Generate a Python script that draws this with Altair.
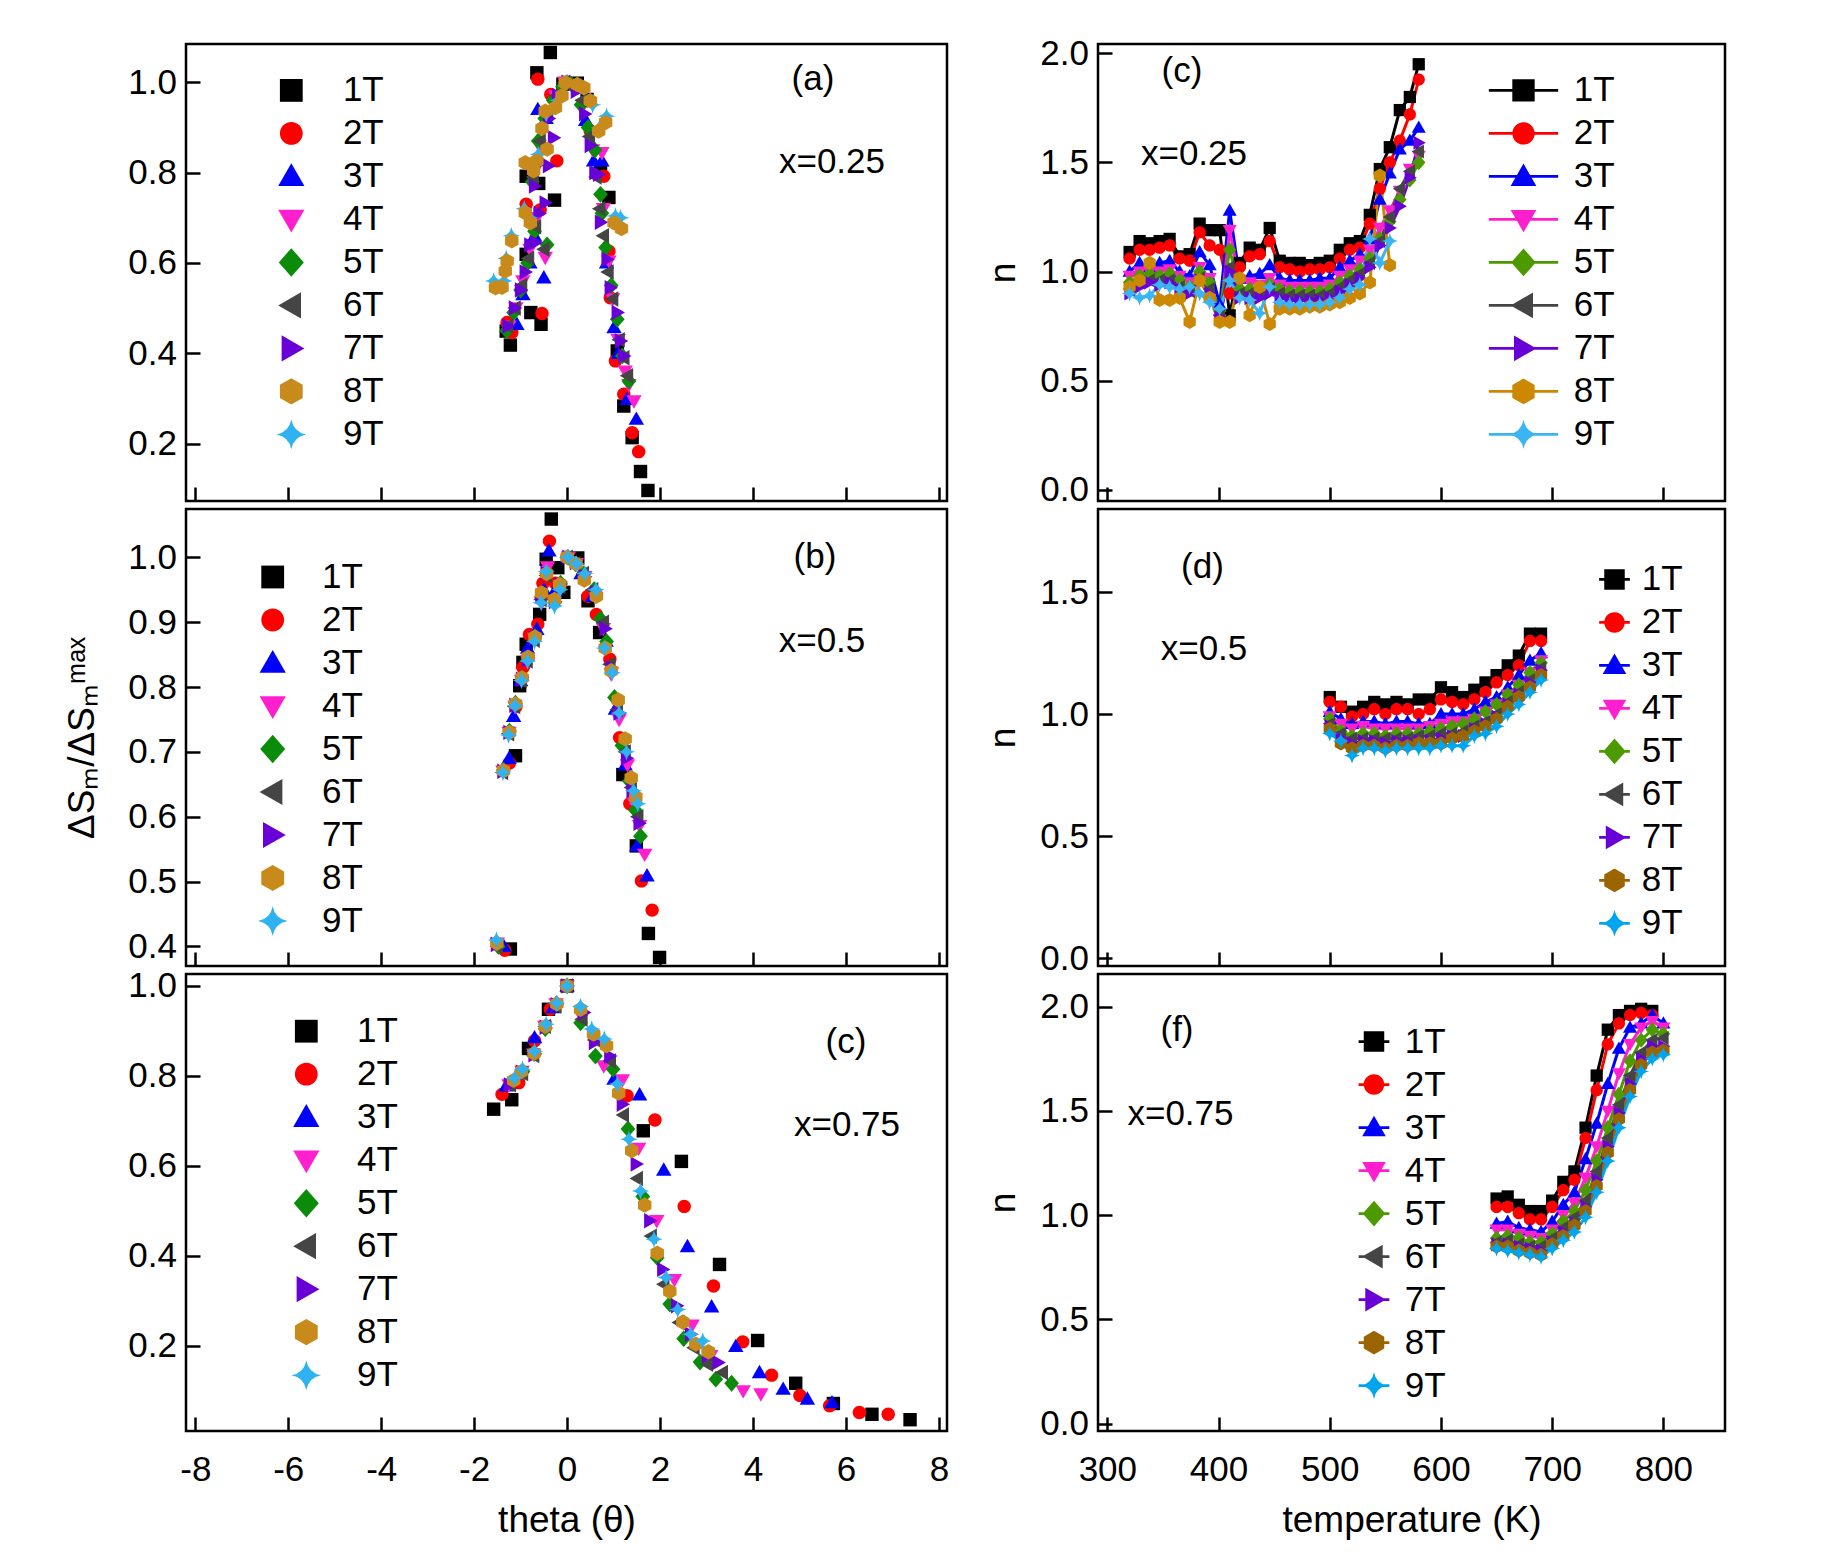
import altair as alt
import pandas as pd

FIELDS = ["1T", "2T", "3T", "4T", "5T", "6T", "7T", "8T", "9T"]

# ---------------- (a) x = 0.25 : normalised entropy change vs theta ----------------
theta_a = {
    "1T": [-1.31, -1.22, -0.78, -0.56, -0.88, -0.27, -0.88, -0.61, -0.65, -0.36, -0.09, 0.22, 0.43, 0.72, 0.90, 1.08, 1.22, 1.40, 1.58, 1.74],
    "2T": [-1.29, -1.19, -0.54, -0.88, -0.58, -0.22, -0.35, -0.63, 0.00, 0.50, 0.79, 0.90, 0.93, 1.04, 1.22, 1.40, 1.54],
    "3T": [-1.08, -0.95, -0.80, -0.70, -0.50, -0.63, -0.45, -0.20, 0.00, 0.40, 0.57, 0.75, 0.85, 1.01, 1.10, 1.29, 1.49],
    "4T": [-1.25, -1.10, -0.95, -0.80, -0.65, -0.47, -0.72, -0.60, -0.45, -0.25, -0.05, 0.15, 0.35, 0.55, 0.75, 0.78, 0.90, 0.98, 1.10, 1.25, 1.33, 1.44],
    "5T": [-1.30, -1.15, -1.00, -0.85, -0.70, -0.43, -0.75, -0.62, -0.48, -0.30, -0.10, 0.10, 0.30, 0.45, 0.60, 0.72, 0.75, 0.83, 0.95, 1.08, 1.19, 1.33],
    "6T": [-1.28, -1.12, -0.98, -0.83, -0.68, -0.50, -0.73, -0.58, -0.42, -0.22, -0.05, 0.12, 0.32, 0.48, 0.62, 0.70, 0.78, 0.88, 0.98, 1.12, 1.22, 1.30],
    "7T": [-1.27, -1.13, -1.00, -0.90, -0.80, -0.68, -0.60, -0.47, -0.70, -0.60, -0.40, -0.29, -0.40, -0.20, 0.00, 0.20, 0.38, 0.50, 0.60, 0.68, 0.72, 0.86, 0.93, 1.08, 1.15, 1.22],
    "8T": [-1.54, -1.40, -1.33, -1.29, -1.19, -0.90, -0.79, -0.90, -0.72, -0.65, -0.43, -0.54, -0.47, -0.25, -0.11, -0.04, 0.22, 0.36, 0.50, 0.68, 0.83, 1.01, 1.17],
    "9T": [-1.58, -1.36, -1.31, -1.20, -0.92, -0.80, -0.62, -0.45, -0.20, 0.00, 0.30, 0.55, 0.70, 0.85, 1.04, 1.15],
}
dsm_a = {
    "1T": [0.449, 0.418, 0.490, 0.464, 0.619, 0.739, 0.792, 0.776, 1.021, 1.066, 0.996, 0.998, 0.962, 0.800, 0.745, 0.405, 0.283, 0.213, 0.138, 0.096],
    "2T": [0.468, 0.446, 0.488, 0.730, 0.717, 0.826, 0.973, 1.007, 1.000, 0.892, 0.792, 0.626, 0.523, 0.383, 0.309, 0.224, 0.182],
    "3T": [0.464, 0.530, 0.600, 0.660, 0.567, 0.940, 0.920, 0.970, 1.000, 0.916, 0.826, 0.826, 0.600, 0.457, 0.400, 0.298, 0.254],
    "4T": [0.46, 0.50, 0.56, 0.63, 0.70, 0.612, 0.80, 0.86, 0.92, 0.97, 1.00, 0.99, 0.95, 0.85, 0.844, 0.72, 0.604, 0.52, 0.43, 0.36, 0.33, 0.294],
    "5T": [0.45, 0.49, 0.54, 0.60, 0.67, 0.64, 0.78, 0.87, 0.92, 0.96, 0.99, 0.995, 0.95, 0.90, 0.85, 0.752, 0.71, 0.634, 0.55, 0.475, 0.394, 0.338],
    "6T": [0.46, 0.50, 0.55, 0.61, 0.68, 0.63, 0.79, 0.87, 0.93, 0.97, 1.00, 0.99, 0.96, 0.88, 0.79, 0.72, 0.66, 0.58, 0.52, 0.43, 0.39, 0.35],
    "7T": [0.46, 0.50, 0.54, 0.58, 0.64, 0.645, 0.71, 0.733, 0.77, 0.82, 0.815, 0.877, 0.92, 0.97, 1.00, 0.98, 0.93, 0.86, 0.80, 0.796, 0.69, 0.608, 0.545, 0.49, 0.427, 0.394],
    "8T": [0.545, 0.546, 0.582, 0.604, 0.649, 0.711, 0.689, 0.822, 0.804, 0.826, 0.852, 0.898, 0.936, 0.944, 0.970, 0.999, 0.995, 0.988, 0.959, 0.892, 0.911, 0.689, 0.676],
    "9T": [0.56, 0.56, 0.61, 0.66, 0.72, 0.70, 0.84, 0.93, 0.96, 1.00, 0.99, 0.95, 0.90, 0.925, 0.704, 0.70],
}

# ---------------- (b) x = 0.5 ----------------
theta_b = {
    "1T": [-1.22, -1.11, -1.02, -0.95, -0.88, -0.59, -0.45, -0.34, -0.20, -0.07, 0.23, 0.45, 0.70, 1.20, 1.49, 1.75, 1.99],
    "2T": [-1.34, -1.24, -1.10, -0.95, -0.81, -0.63, -0.52, -0.38, -0.25, 0.00, 0.45, 0.63, 0.92, 1.13, 1.35, 1.60, 1.83],
    "3T": [-1.36, -1.25, -1.15, -1.00, -0.85, -0.65, -0.50, -0.39, -0.25, 0.00, 0.30, 0.55, 0.84, 1.04, 1.25, 1.50, 1.72],
    "4T": [-1.50, -1.38, -1.25, -1.12, -0.98, -0.85, -0.70, -0.55, -0.42, -0.28, -0.15, 0.03, 0.20, 0.38, 0.60, 0.78, 0.95, 1.12, 1.30, 1.45, 1.56, 1.67],
    "5T": [-1.48, -1.37, -1.24, -1.11, -0.97, -0.84, -0.69, -0.55, -0.44, -0.27, -0.14, 0.02, 0.18, 0.36, 0.58, 0.72, 0.85, 1.02, 1.18, 1.34, 1.47, 1.58],
    "6T": [-1.50, -1.39, -1.26, -1.13, -0.99, -0.86, -0.71, -0.56, -0.45, -0.28, -0.16, 0.00, 0.17, 0.35, 0.55, 0.78, 0.92, 1.08, 1.25, 1.38, 1.52],
    "7T": [-1.52, -1.38, -1.25, -1.12, -0.98, -0.85, -0.70, -0.56, -0.45, -0.27, -0.15, 0.02, 0.18, 0.38, 0.62, 0.82, 0.95, 1.12, 1.28, 1.40, 1.55],
    "8T": [-1.51, -1.37, -1.24, -1.11, -0.97, -0.84, -0.69, -0.55, -0.44, -0.27, -0.16, 0.00, 0.19, 0.37, 0.63, 0.82, 0.95, 1.10, 1.25, 1.38, 1.48],
    "9T": [-1.52, -1.38, -1.26, -1.12, -0.98, -0.85, -0.70, -0.56, -0.45, -0.27, -0.15, 0.02, 0.20, 0.38, 0.62, 0.80, 0.97, 1.12, 1.28, 1.43, 1.52],
}
dsm_b = {
    "1T": [0.396, 0.694, 0.802, 0.838, 0.866, 0.912, 0.997, 1.059, 0.984, 0.946, 0.999, 0.933, 0.884, 0.665, 0.555, 0.420, 0.383],
    "2T": [0.394, 0.683, 0.770, 0.830, 0.881, 0.897, 0.960, 1.025, 0.960, 1.000, 0.940, 0.912, 0.843, 0.722, 0.620, 0.501, 0.456],
    "3T": [0.400, 0.690, 0.755, 0.810, 0.860, 0.889, 0.950, 1.010, 0.950, 1.000, 0.975, 0.940, 0.871, 0.766, 0.680, 0.555, 0.509],
    "4T": [0.405, 0.670, 0.730, 0.770, 0.810, 0.840, 0.875, 0.930, 0.985, 0.930, 0.955, 1.000, 0.990, 0.970, 0.940, 0.890, 0.820, 0.750, 0.680, 0.620, 0.586, 0.542],
    "5T": [0.400, 0.672, 0.732, 0.775, 0.815, 0.845, 0.878, 0.940, 0.975, 0.930, 0.960, 1.000, 0.990, 0.975, 0.950, 0.905, 0.870, 0.784, 0.710, 0.655, 0.610, 0.570],
    "6T": [0.400, 0.668, 0.728, 0.770, 0.810, 0.840, 0.872, 0.935, 0.972, 0.935, 0.955, 1.000, 0.990, 0.975, 0.950, 0.900, 0.835, 0.765, 0.700, 0.645, 0.600],
    "7T": [0.403, 0.670, 0.730, 0.772, 0.812, 0.842, 0.875, 0.940, 0.976, 0.932, 0.958, 1.000, 0.992, 0.970, 0.945, 0.890, 0.830, 0.760, 0.690, 0.640, 0.590],
    "8T": [0.405, 0.671, 0.730, 0.774, 0.814, 0.846, 0.877, 0.945, 0.975, 0.935, 0.958, 1.000, 0.990, 0.965, 0.940, 0.860, 0.825, 0.780, 0.720, 0.660, 0.630],
    "9T": [0.410, 0.668, 0.726, 0.771, 0.810, 0.840, 0.870, 0.930, 0.978, 0.925, 0.950, 1.000, 0.990, 0.975, 0.950, 0.860, 0.822, 0.760, 0.700, 0.640, 0.620],
}

# ---------------- (c) x = 0.75 ----------------
theta_c = {
    "1T": [-1.58, -1.19, -0.83, -0.40, 0.00, 1.64, 2.46, 3.28, 4.10, 4.92, 5.73, 6.56, 7.38],
    "2T": [-1.40, -1.04, -0.70, -0.36, 0.00, 1.29, 1.89, 2.52, 3.15, 3.78, 4.40, 5.01, 5.65, 6.29, 6.91],
    "3T": [-1.31, -0.70, -0.30, 0.00, 1.01, 1.56, 2.08, 2.59, 3.11, 3.63, 4.14, 4.65, 5.17, 5.70],
    "4T": [-1.25, -0.97, -0.72, -0.48, -0.24, 0.00, 0.32, 0.79, 1.19, 1.54, 1.93, 2.31, 2.69, 3.09, 3.79, 4.17],
    "5T": [-1.20, -0.95, -0.70, -0.47, -0.23, 0.00, 0.29, 0.61, 0.99, 1.31, 1.63, 1.94, 2.21, 2.51, 2.86, 3.20, 3.54],
    "6T": [-1.22, -0.96, -0.72, -0.47, -0.24, 0.00, 0.32, 0.59, 0.93, 1.21, 1.51, 1.81, 2.08, 2.41, 2.73, 3.02, 3.34],
    "7T": [-1.24, -0.98, -0.71, -0.47, -0.23, 0.00, 0.36, 0.59, 0.92, 1.19, 1.49, 1.78, 2.06, 2.36, 2.66, 3.02, 3.25],
    "8T": [-1.15, -0.98, -0.71, -0.47, -0.22, 0.00, 0.29, 0.57, 0.85, 1.11, 1.39, 1.67, 1.94, 2.21, 2.49, 2.77, 3.04],
    "9T": [-1.13, -0.96, -0.70, -0.45, -0.22, 0.00, 0.29, 0.53, 0.80, 1.08, 1.33, 1.58, 1.87, 2.13, 2.38, 2.66, 2.92],
}
dsm_c = {
    "1T": [0.726, 0.747, 0.861, 0.948, 1.000, 0.678, 0.610, 0.381, 0.212, 0.117, 0.072, 0.048, 0.036],
    "2T": [0.759, 0.785, 0.878, 0.948, 1.000, 0.756, 0.702, 0.510, 0.333, 0.209, 0.135, 0.090, 0.067, 0.052, 0.048],
    "3T": [0.778, 0.885, 0.952, 1.000, 0.793, 0.758, 0.591, 0.421, 0.287, 0.199, 0.141, 0.104, 0.082, 0.074],
    "4T": [0.780, 0.810, 0.848, 0.910, 0.960, 1.000, 0.930, 0.822, 0.791, 0.639, 0.478, 0.347, 0.246, 0.178, 0.100, 0.093],
    "5T": [0.785, 0.810, 0.850, 0.905, 0.960, 1.000, 0.918, 0.844, 0.815, 0.682, 0.532, 0.396, 0.293, 0.216, 0.164, 0.126, 0.117],
    "6T": [0.780, 0.805, 0.845, 0.910, 0.955, 1.000, 0.926, 0.880, 0.833, 0.713, 0.572, 0.444, 0.337, 0.252, 0.196, 0.159, 0.141],
    "7T": [0.780, 0.808, 0.847, 0.908, 0.958, 1.000, 0.941, 0.874, 0.844, 0.737, 0.604, 0.478, 0.370, 0.289, 0.226, 0.178, 0.163],
    "8T": [0.790, 0.810, 0.850, 0.910, 0.960, 1.000, 0.948, 0.893, 0.867, 0.762, 0.634, 0.513, 0.406, 0.321, 0.253, 0.204, 0.187],
    "9T": [0.795, 0.815, 0.855, 0.915, 0.962, 1.000, 0.954, 0.904, 0.882, 0.782, 0.659, 0.544, 0.437, 0.352, 0.281, 0.226, 0.211],
}

# ---------------- exponent n vs temperature ----------------
temp_c = [320, 329, 338, 347, 356, 365, 374, 383, 392, 401, 410, 419, 428, 437, 446,
          455, 464, 473, 482, 491, 500, 509, 518, 527, 536, 545, 554, 563, 572, 580]
n_c = {
    "1T": [1.09, 1.14, 1.13, 1.14, 1.15, 1.07, 1.08, 1.22, 1.19, 1.19, 0.80, 1.04, 1.11, 1.10, 1.20, 1.05, 1.04, 1.04, 1.03, 1.04, 1.05, 1.10, 1.13, 1.14, 1.26, 1.47, 1.57, 1.74, 1.80, 1.95],
    "2T": [1.06, 1.10, 1.10, 1.11, 1.12, 1.06, 1.05, 1.18, 1.12, 1.10, 0.90, 1.02, 1.07, 1.08, 1.14, 1.02, 1.01, 1.00, 1.01, 1.01, 1.02, 1.06, 1.10, 1.11, 1.22, 1.38, 1.50, 1.60, 1.72, 1.88],
    "3T": [1.00, 1.04, 1.02, 1.04, 1.05, 1.00, 0.98, 1.09, 1.03, 0.85, 1.28, 0.97, 0.98, 0.99, 1.03, 0.97, 0.96, 0.96, 0.96, 0.97, 0.97, 1.02, 1.05, 1.08, 1.15, 1.33, 1.45, 1.56, 1.60, 1.66],
    "4T": [0.98, 1.00, 1.00, 1.00, 1.01, 0.98, 0.95, 1.02, 0.97, 0.78, 1.19, 0.95, 0.95, 0.94, 0.97, 0.94, 0.93, 0.93, 0.93, 0.93, 0.94, 0.98, 1.01, 1.05, 1.10, 1.20, 1.28, 1.37, 1.47, 1.53],
    "5T": [0.95, 0.98, 0.99, 0.98, 0.99, 0.96, 0.93, 1.00, 0.95, 0.82, 1.10, 0.92, 0.92, 0.92, 0.94, 0.92, 0.91, 0.91, 0.91, 0.91, 0.92, 0.95, 0.98, 1.01, 1.06, 1.15, 1.23, 1.33, 1.42, 1.50],
    "6T": [0.92, 0.95, 0.96, 0.96, 0.96, 0.93, 0.91, 0.97, 0.92, 0.80, 1.02, 0.90, 0.90, 0.90, 0.92, 0.90, 0.89, 0.89, 0.89, 0.89, 0.90, 0.93, 0.96, 0.99, 1.04, 1.14, 1.25, 1.38, 1.46, 1.55],
    "7T": [0.90, 0.93, 0.95, 0.94, 0.95, 0.92, 0.90, 0.96, 0.90, 0.79, 1.00, 0.88, 0.88, 0.88, 0.90, 0.88, 0.87, 0.87, 0.87, 0.87, 0.88, 0.91, 0.94, 0.97, 1.02, 1.12, 1.20, 1.30, 1.43, 1.59],
    "8T": [0.93, 0.96, 1.04, 0.87, 0.87, 0.88, 0.77, 0.96, 0.88, 0.77, 0.77, 0.97, 0.80, 0.93, 0.76, 0.83, 0.83, 0.83, 0.84, 0.84, 0.85, 0.86, 0.88, 0.90, 0.95, 1.44, 1.03],
    "9T": [0.90, 0.88, 0.89, 0.94, 0.93, 0.92, 0.93, 0.90, 0.86, 0.83, 0.96, 0.88, 0.87, 0.81, 0.93, 0.86, 0.85, 0.85, 0.85, 0.85, 0.86, 0.88, 0.92, 0.94, 1.15, 1.04, 1.14],
}

temp_d = [500, 510, 520, 530, 540, 550, 560, 570, 580, 590, 600, 610, 620, 630, 640, 650, 660, 670, 680, 690]
n_d = {
    "1T": [1.07, 1.03, 1.01, 1.03, 1.05, 1.04, 1.05, 1.04, 1.06, 1.06, 1.11, 1.09, 1.07, 1.10, 1.13, 1.16, 1.20, 1.24, 1.33, 1.33],
    "2T": [1.05, 1.03, 0.99, 1.00, 1.02, 1.00, 1.02, 1.02, 1.00, 1.02, 1.06, 1.05, 1.04, 1.06, 1.09, 1.13, 1.16, 1.20, 1.30, 1.30],
    "3T": [1.01, 0.98, 0.96, 0.97, 0.97, 0.96, 0.97, 0.97, 0.96, 0.96, 1.00, 1.00, 1.00, 1.02, 1.05, 1.07, 1.11, 1.16, 1.22, 1.25],
    "4T": [0.99, 0.96, 0.94, 0.95, 0.94, 0.94, 0.94, 0.94, 0.94, 0.95, 0.96, 0.97, 0.97, 0.98, 1.01, 1.04, 1.08, 1.12, 1.17, 1.22],
    "5T": [0.98, 0.93, 0.91, 0.92, 0.92, 0.91, 0.92, 0.92, 0.92, 0.93, 0.94, 0.95, 0.96, 0.98, 1.01, 1.04, 1.08, 1.12, 1.17, 1.21],
    "6T": [0.96, 0.92, 0.90, 0.90, 0.90, 0.90, 0.90, 0.90, 0.91, 0.91, 0.92, 0.92, 0.93, 0.95, 0.97, 1.00, 1.05, 1.09, 1.14, 1.19],
    "7T": [0.95, 0.90, 0.88, 0.89, 0.89, 0.88, 0.89, 0.89, 0.89, 0.89, 0.90, 0.91, 0.91, 0.94, 0.96, 0.99, 1.04, 1.08, 1.13, 1.18],
    "8T": [0.94, 0.88, 0.86, 0.87, 0.87, 0.86, 0.87, 0.87, 0.88, 0.88, 0.88, 0.90, 0.91, 0.93, 0.95, 0.98, 1.03, 1.07, 1.11, 1.16],
    "9T": [0.92, 0.89, 0.83, 0.86, 0.86, 0.85, 0.86, 0.86, 0.86, 0.86, 0.87, 0.87, 0.87, 0.91, 0.92, 0.95, 1.00, 1.04, 1.09, 1.14],
}

temp_f = [650, 660, 670, 680, 690, 700, 710, 720, 730, 740, 750, 760, 770, 780, 790, 800]
n_f = {
    "1T": [1.08, 1.09, 1.05, 1.02, 1.02, 1.07, 1.16, 1.21, 1.42, 1.67, 1.89, 1.96, 1.98, 1.99, 1.98],
    "2T": [1.04, 1.04, 1.01, 0.98, 0.98, 1.04, 1.12, 1.17, 1.37, 1.60, 1.82, 1.92, 1.96, 1.97, 1.96],
    "3T": [0.96, 0.97, 0.94, 0.93, 0.92, 0.97, 1.05, 1.11, 1.27, 1.44, 1.63, 1.80, 1.90, 1.92, 1.96, 1.92],
    "4T": [0.93, 0.93, 0.91, 0.90, 0.89, 0.93, 1.00, 1.06, 1.18, 1.33, 1.50, 1.68, 1.82, 1.90, 1.93, 1.90],
    "5T": [0.89, 0.90, 0.89, 0.87, 0.87, 0.91, 0.97, 1.02, 1.12, 1.26, 1.42, 1.58, 1.74, 1.84, 1.89, 1.87],
    "6T": [0.87, 0.88, 0.86, 0.85, 0.85, 0.89, 0.94, 0.99, 1.07, 1.21, 1.37, 1.53, 1.67, 1.78, 1.84, 1.85],
    "7T": [0.86, 0.86, 0.85, 0.84, 0.83, 0.87, 0.92, 0.96, 1.04, 1.17, 1.33, 1.49, 1.63, 1.75, 1.81, 1.81],
    "8T": [0.85, 0.85, 0.83, 0.82, 0.81, 0.86, 0.90, 0.95, 1.02, 1.14, 1.30, 1.46, 1.60, 1.72, 1.78, 1.79],
    "9T": [0.84, 0.83, 0.82, 0.81, 0.80, 0.84, 0.88, 0.92, 0.99, 1.11, 1.26, 1.42, 1.57, 1.69, 1.75, 1.77],
}

# ---------------- styling ----------------
FONT = "Liberation Sans, Arial, Helvetica, sans-serif"
TICK = 14
LABEL_SIZE = 35
TITLE_SIZE = 37
LEG_SIZE = 35
ANN_SIZE = 35

COLORS_THETA = ["#000000", "#ff0000", "#0000ff", "#ff1fce", "#0a8c0a", "#454545", "#6a00d8", "#c98a1c", "#2fb2f2"]
COLORS_N025 = ["#000000", "#ff0000", "#0000ff", "#ff1fce", "#4c9a00", "#454545", "#6a00d8", "#cc8800", "#3ab4f2"]
COLORS_N = ["#000000", "#ff0000", "#0000ff", "#ff1fce", "#4c9a00", "#454545", "#6a00d8", "#9a6500", "#00a5f0"]

# marker outlines, drawn in a [-1, 1] box
SQUARE = "M-1,-1H1V1H-1Z"
CIRCLE = "M1,0A1,1 0 1,1 -1,0A1,1 0 1,1 1,0Z"
TRI_UP = "M0,-1.15L1.15,0.85H-1.15Z"
TRI_DOWN = "M0,1.15L-1.15,-0.85H1.15Z"
DIAMOND = "M0,-1.25L1.1,0L0,1.25L-1.1,0Z"
TRI_LEFT = "M-1.15,0L0.85,-1.15V1.15Z"
TRI_RIGHT = "M1.15,0L-0.85,1.15V-1.15Z"
HEXAGON = "M0,-1.15L1,-0.58V0.58L0,1.15L-1,0.58V-0.58Z"
STAR4 = "M0,-1.3Q0.2,-0.2 1.3,0Q0.2,0.2 0,1.3Q-0.2,0.2 -1.3,0Q-0.2,-0.2 0,-1.3Z"
SHAPES = [SQUARE, CIRCLE, TRI_UP, TRI_DOWN, DIAMOND, TRI_LEFT, TRI_RIGHT, HEXAGON, STAR4]


def with_bar(path, half):
    """Legend key: marker with a horizontal line segment through it."""
    if not half:
        return path
    return f"M{-half},-0.13H{half}V0.13H{-half}Z{path}"


def long_frame(xs, ys, order):
    rows = []
    for s in order:
        for t, v in zip(xs[s], ys[s]):
            rows.append({"field": s, "x": t, "y": v})
    return pd.DataFrame(rows)


ONE = pd.DataFrame({"k": [0]})


def axis(values, fmt, labels, title, label_pad, title_pad):
    kw = dict(values=values, labels=labels, tickSize=TICK, offset=-TICK,
              domain=False, grid=False, tickWidth=2.5, tickColor="black",
              labelFont=FONT, labelFontSize=LABEL_SIZE, labelColor="black",
              labelPadding=label_pad, labelFlush=False, labelOverlap=False)
    if fmt == "int":
        # plain hyphen for negative tick values
        kw["labelExpr"] = "'' + datum.value"
    else:
        kw["format"] = fmt
    if title:
        kw.update(title=title, titleFont=FONT, titleFontSize=TITLE_SIZE,
                  titleFontWeight="normal", titleColor="black", titlePadding=title_pad)
    else:
        kw.update(title=None)
    return alt.Axis(**kw)


def panel(df, *, xdom, ydom, xvals, yvals, xlabels, xtitle, ytitle, ytitle_pad,
          colors, size, width, height, lines, leg, notes):
    X = alt.X("x:Q", scale=alt.Scale(domain=xdom, nice=False, zero=False),
              axis=axis(xvals, "int", xlabels, xtitle if xlabels else None, 21, 15))
    Y = alt.Y("y:Q", scale=alt.Scale(domain=ydom, nice=False, zero=False),
              axis=axis(yvals, ".1f", True, ytitle, 9.5, ytitle_pad))
    cscale = alt.Scale(domain=FIELDS, range=colors)
    layers = []
    if lines:
        layers.append(
            alt.Chart(df).mark_line(strokeWidth=3).encode(
                x=X, y=Y, color=alt.Color("field:N", scale=cscale, legend=None),
                detail="field:N"))
    layers.append(
        alt.Chart(df).mark_point(filled=True, opacity=1, size=size).encode(
            x=X, y=Y,
            color=alt.Color("field:N", scale=cscale, legend=None),
            shape=alt.Shape("field:N", scale=alt.Scale(domain=FIELDS, range=SHAPES), legend=None)))
    legend = alt.Legend(orient="none", legendX=leg["x"], legendY=leg["y"], title=None,
                        labelFont=FONT, labelFontSize=LEG_SIZE, labelColor="black",
                        labelOffset=leg["label_offset"], symbolSize=leg["size"],
                        symbolStrokeWidth=0, symbolOpacity=1, rowPadding=leg["row_pad"],
                        padding=0)
    key_df = df.groupby("field", sort=False).head(1)
    layers.append(
        alt.Chart(key_df).mark_point(filled=True, opacity=0).encode(
            x=X, y=Y,
            color=alt.Color("field:N", scale=cscale, legend=legend),
            shape=alt.Shape("field:N",
                            scale=alt.Scale(domain=FIELDS, range=[with_bar(p, leg["bar"]) for p in SHAPES]),
                            legend=legend)))
    for text, px, py in notes:
        layers.append(
            alt.Chart(ONE).mark_text(text=text, font=FONT, fontSize=ANN_SIZE, color="black",
                                     align="center", baseline="middle").encode(
                x=alt.value(px), y=alt.value(py)))
    return alt.layer(*layers).resolve_scale(color="independent", shape="independent").properties(
        width=width, height=height)


LW, RW, H = 761, 627, 457
THETA_DOM = [-8.2, 8.175]
THETA_TICKS = [-8, -6, -4, -2, 0, 2, 4, 6, 8]
TEMP_DOM = [291.6, 855.4]
TEMP_TICKS = [300, 400, 500, 600, 700, 800]
YLABEL = "ΔSₘ/ΔSₘᵐᵃˣ"
ROWPAD = 7
THETA_SIZE = 180
N_SIZE = 150

order_a = ["1T", "2T", "3T", "4T", "5T", "6T", "7T", "9T", "8T"]

pa = panel(long_frame(theta_a, dsm_a, order_a), xdom=THETA_DOM, ydom=[0.0727, 1.0848],
           xvals=THETA_TICKS, yvals=[0.2, 0.4, 0.6, 0.8, 1.0], xlabels=False,
           xtitle=None, ytitle=None, ytitle_pad=0, colors=COLORS_THETA, size=THETA_SIZE,
           width=LW, height=H, lines=False,
           leg=dict(x=87.8, y=28.9, label_offset=34.1, size=520, row_pad=ROWPAD, bar=0),
           notes=[("(a)", 627, 35), ("x=0.25", 646, 118)])

pb = panel(long_frame(theta_b, dsm_b, FIELDS), xdom=THETA_DOM, ydom=[0.3698, 1.0745],
           xvals=THETA_TICKS, yvals=[0.4, 0.5, 0.6, 0.7, 0.8, 0.9, 1.0], xlabels=False,
           xtitle=None, ytitle=YLABEL, ytitle_pad=26, colors=COLORS_THETA, size=THETA_SIZE,
           width=LW, height=H, lines=False,
           leg=dict(x=69.2, y=50.5, label_offset=31.9, size=520, row_pad=ROWPAD, bar=0),
           notes=[("(b)", 629, 48), ("x=0.5", 636, 132)])

pc = panel(long_frame(theta_c, dsm_c, FIELDS), xdom=THETA_DOM, ydom=[0.0109, 1.0264],
           xvals=THETA_TICKS, yvals=[0.2, 0.4, 0.6, 0.8, 1.0], xlabels=True,
           xtitle="theta (θ)", ytitle=None, ytitle_pad=0, colors=COLORS_THETA, size=THETA_SIZE,
           width=LW, height=H, lines=False,
           leg=dict(x=102.8, y=39.7, label_offset=33.3, size=520, row_pad=ROWPAD, bar=0),
           notes=[("(c)", 660, 68), ("x=0.75", 661, 151)])

temps_c = {s: temp_c for s in FIELDS}
temps_d = {s: temp_d for s in FIELDS}
temps_f = {s: temp_f for s in FIELDS}

pn1 = panel(long_frame(temps_c, n_c, FIELDS), xdom=TEMP_DOM, ydom=[-0.0504, 2.0426],
            xvals=TEMP_TICKS, yvals=[0.0, 0.5, 1.0, 1.5, 2.0], xlabels=False,
            xtitle=None, ytitle="n", ytitle_pad=17, colors=COLORS_N025, size=N_SIZE,
            width=RW, height=H, lines=True,
            leg=dict(x=408, y=28.9, label_offset=32.8, size=500, row_pad=ROWPAD, bar=3.1),
            notes=[("(c)", 84, 27), ("x=0.25", 96, 110)])

pn2 = panel(long_frame(temps_d, n_d, FIELDS), xdom=TEMP_DOM, ydom=[-0.0328, 1.841],
            xvals=TEMP_TICKS, yvals=[0.0, 0.5, 1.0, 1.5], xlabels=False,
            xtitle=None, ytitle="n", ytitle_pad=17, colors=COLORS_N, size=N_SIZE,
            width=RW, height=H, lines=True,
            leg=dict(x=499, y=52.9, label_offset=9.8, size=420, row_pad=ROWPAD, bar=1.5),
            notes=[("(d)", 104.5, 58), ("x=0.5", 106, 140)])

pn3 = panel(long_frame(temps_f, n_f, FIELDS), xdom=TEMP_DOM, ydom=[-0.035, 2.157],
            xvals=TEMP_TICKS, yvals=[0.0, 0.5, 1.0, 1.5, 2.0], xlabels=True,
            xtitle="temperature (K)", ytitle="n", ytitle_pad=17, colors=COLORS_N, size=N_SIZE,
            width=RW, height=H, lines=True,
            leg=dict(x=258.5, y=50.1, label_offset=13.2, size=420, row_pad=ROWPAD, bar=1.5),
            notes=[("(f)", 79, 56), ("x=0.75", 82.5, 140)])

chart = (
    alt.concat(pa, pn1, pb, pn2, pc, pn3, columns=2, bounds="flush", align="each",
               spacing={"row": 8, "column": 151})
    .resolve_scale(color="independent", shape="independent")
    .configure_view(stroke="black", strokeWidth=2.5)
    .properties(padding={"left": 62, "top": 35, "right": 5, "bottom": 5}, background="white")
)

chart.save("out.html", embed_options={"renderer": "svg", "actions": False})
